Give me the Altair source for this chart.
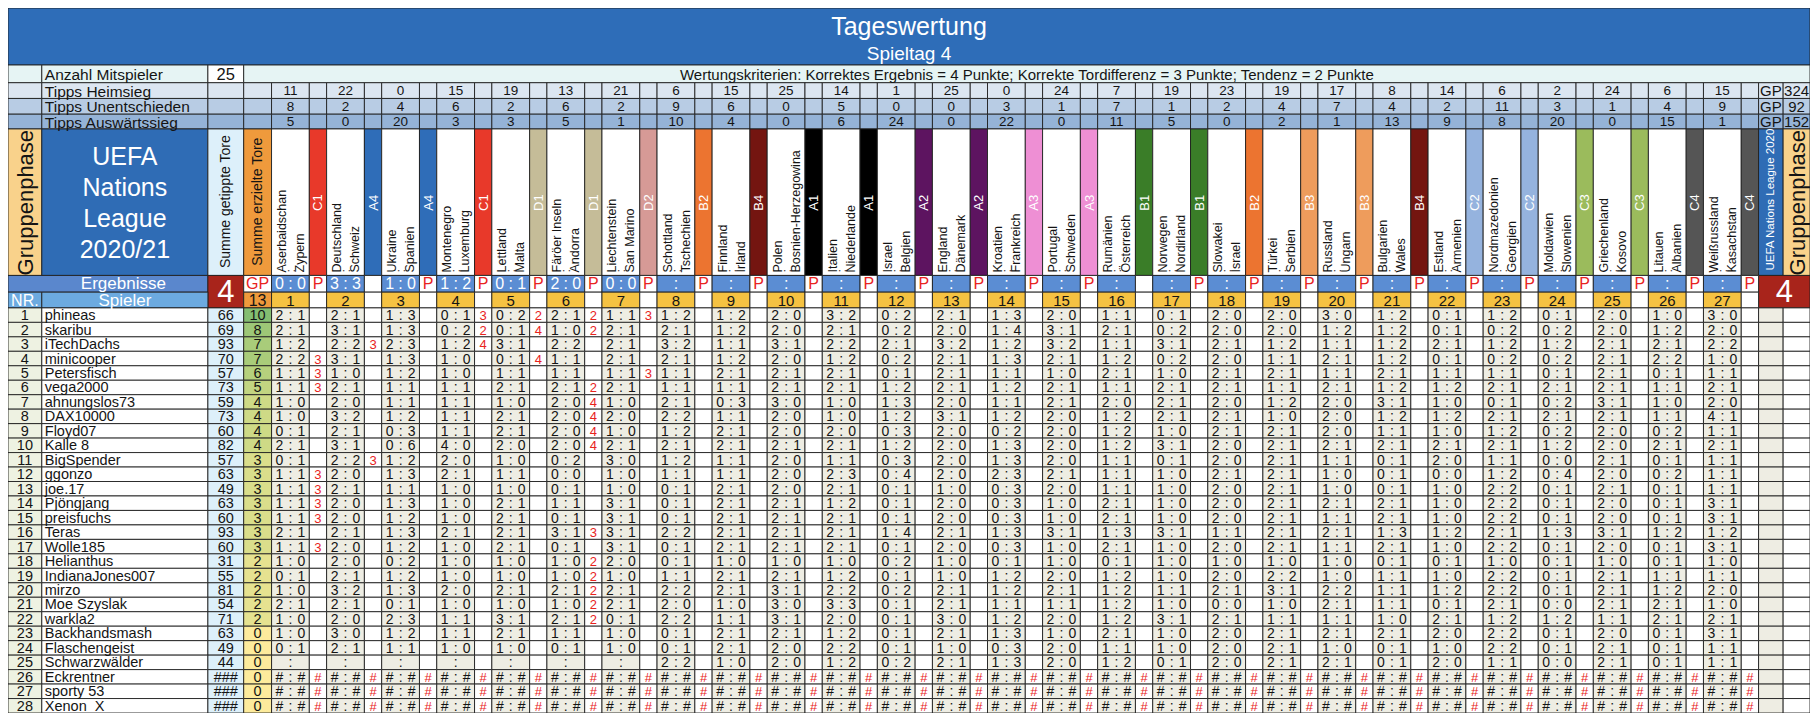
import altair as alt
import pandas as pd

# ---------------- chart values ----------------
title = "Tageswertung"
subtitle = "Spieltag 4"
criteria = "Wertungskriterien: Korrektes Ergebnis = 4 Punkte; Korrekte Tordifferenz = 3 Punkte; Tendenz = 2 Punkte"
league_block = "UEFA\nNations\nLeague\n2020/21"
league_short = "UEFA Nations League 2020/21"
phase = "Gruppenphase"
spieltag_nr = "4"
anzahl_label = "Anzahl Mitspieler"
anzahl_value = "25"
tipps_labels = ["Tipps Heimsieg", "Tipps Unentschieden", "Tipps Auswärtssieg"]
col_labels = ["Summe getippte Tore", "Summe erzielte Tore"]

home = ["Aserbaidschan", "Deutschland", "Ukraine", "Montenegro", "Lettland", "Färöer Inseln",
        "Liechtenstein", "Schottland", "Finnland", "Polen", "Italien", "Israel", "England",
        "Kroatien", "Portugal", "Rumänien", "Norwegen", "Slowakei", "Türkei", "Russland",
        "Bulgarien", "Estland", "Nordmazedonien", "Moldawien", "Griechenland", "Litauen",
        "Weißrussland"]
away = ["Zypern", "Schweiz", "Spanien", "Luxemburg", "Malta", "Andorra", "San Marino",
        "Tschechien", "Irland", "Bosnien-Herzegowina", "Niederlande", "Belgien", "Dänemark",
        "Frankreich", "Schweden", "Österreich", "Nordirland", "Israel", "Serbien", "Ungarn",
        "Wales", "Armenien", "Georgien", "Slowenien", "Kosovo", "Albanien", "Kasachstan"]
groups = ["C1", "A4", "A4", "C1", "D1", "D1", "D2", "B2", "B4", "A1", "A1", "A2", "A2", "A3",
          "A3", "B1", "B1", "B2", "B3", "B3", "B4", "C2", "C2", "C3", "C3", "C4", "C4"]

tipps_heim = [11, 22, 0, 15, 19, 13, 21, 6, 15, 25, 14, 1, 25, 0, 24, 7, 19, 23, 19, 17, 8, 14, 6, 2, 24, 6, 15]
tipps_unent = [8, 2, 4, 6, 2, 6, 2, 9, 6, 0, 5, 0, 0, 3, 1, 7, 1, 2, 4, 7, 4, 2, 11, 3, 1, 4, 9]
tipps_ausw = [5, 0, 20, 3, 3, 5, 1, 10, 4, 0, 6, 24, 0, 22, 0, 11, 5, 0, 2, 1, 13, 9, 8, 20, 0, 15, 1]
gp_totals = [324, 92, 152]

results = ["0:0", "3:3", "1:0", "1:2", "0:1", "2:0", "0:0", ":", ":", ":", ":", ":", ":", ":",
           ":", ":", ":", ":", ":", ":", ":", ":", ":", ":", ":", ":", ":"]
result_flags = ["P", "", "P", "P", "P", "P", "P", "P", "P", "P", "P", "P", "P", "P", "P", "",
                "P", "P", "P", "P", "P", "P", "P", "P", "P", "P", "P"]
goals_scored_total = "13"

players = ["phineas", "skaribu", "iTechDachs", "minicooper", "Petersfisch", "vega2000",
           "ahnungslos73", "DAX10000", "Floyd07", "Kalle 8", "BigSpender", "ggonzo", "joe.17",
           "Pjöngjang", "preisfuchs", "Teras", "Wolle185", "Helianthus", "IndianaJones007",
           "mirzo", "Moe Szyslak", "warkla2", "Backhandsmash", "Flaschengeist", "Schwarzwälder",
           "Eckrentner", "sporty 53", "Xenon_X"]
tipped_goals = ["66", "69", "93", "70", "57", "73", "59", "73", "60", "82", "57", "63", "49", "63",
                "60", "93", "60", "31", "55", "81", "54", "71", "63", "49", "44", "###", "###", "###"]
points_total = [10, 8, 7, 7, 6, 5, 4, 4, 4, 4, 3, 3, 3, 3, 3, 3, 3, 2, 2, 2, 2, 2, 0, 0, 0, 0, 0, 0]

ERR = "#:# " * 27
tips = [
    "2:1 2:1 1:3 0:1 0:2 2:1 1:1 1:2 1:2 2:0 3:2 0:2 2:1 1:3 2:0 1:1 0:1 2:0 2:0 3:0 1:2 0:1 1:2 0:1 2:0 1:0 3:0",
    "2:1 3:1 1:3 0:2 0:1 1:0 2:1 2:1 1:2 2:0 2:1 0:2 2:0 1:4 3:1 2:1 0:2 2:0 2:0 1:2 1:2 0:1 0:2 0:2 2:0 1:2 2:0",
    "1:2 2:2 2:3 1:2 3:1 2:2 2:1 3:2 1:1 3:1 2:2 2:1 3:2 1:2 3:2 1:1 3:1 2:1 1:2 1:1 1:2 2:1 1:2 1:2 2:1 2:1 2:2",
    "2:2 3:1 1:3 1:0 0:1 1:1 2:1 2:1 1:2 2:0 1:2 0:2 2:1 1:3 2:1 1:2 0:2 2:0 1:1 2:1 1:2 0:1 0:2 0:2 2:1 2:2 1:0",
    "1:1 1:0 1:2 1:0 1:1 1:1 1:1 1:1 2:1 2:1 2:1 0:1 2:1 1:1 1:0 2:1 1:0 2:1 2:1 1:1 2:1 1:1 1:1 0:1 2:1 0:1 1:1",
    "1:1 2:1 1:1 1:1 2:1 2:1 2:1 1:1 1:1 2:1 2:1 1:2 2:1 1:2 2:1 1:1 2:1 2:1 1:1 2:1 1:2 1:2 2:1 2:1 2:1 1:1 2:1",
    "1:0 2:0 1:1 1:1 1:0 2:0 1:0 2:1 0:3 3:0 1:0 1:3 2:0 1:1 2:1 2:0 2:1 2:0 1:2 2:0 3:1 1:0 0:1 0:2 3:1 1:0 2:0",
    "1:0 3:2 1:2 1:1 2:1 2:0 2:0 2:2 1:1 2:0 1:0 1:2 3:1 1:2 2:0 1:2 2:1 2:1 1:0 2:0 1:2 1:2 2:1 2:1 2:1 1:1 4:1",
    "0:1 2:1 0:3 1:1 2:1 2:0 1:0 1:2 2:1 2:0 2:0 0:3 2:0 0:2 2:0 1:2 1:0 2:1 2:1 2:0 1:1 1:0 1:2 0:2 2:0 0:2 1:1",
    "2:1 3:1 0:6 4:0 2:0 2:0 2:1 2:1 2:1 2:1 2:1 1:2 2:0 1:3 2:0 1:2 3:1 2:0 2:1 2:1 2:1 2:1 2:1 1:2 2:0 2:1 2:1",
    "0:1 2:2 1:2 2:0 1:0 0:2 3:0 1:2 1:1 2:0 1:1 0:3 2:0 1:3 2:0 1:1 0:1 2:0 2:1 1:1 0:1 2:0 1:1 0:0 2:1 0:1 1:1",
    "1:1 2:0 1:3 2:1 1:1 0:0 1:0 1:1 1:1 2:0 2:3 0:4 2:0 2:3 2:1 1:1 1:0 2:1 2:1 1:0 0:1 0:0 1:2 0:4 2:0 0:2 1:1",
    "1:1 2:1 1:1 1:0 1:0 0:1 1:0 0:1 2:1 2:0 2:1 0:1 1:0 0:3 2:0 1:1 1:0 2:0 2:1 1:0 0:1 1:0 2:2 0:1 2:1 0:1 1:1",
    "1:1 2:0 1:3 1:0 2:1 1:1 3:1 0:1 2:1 2:1 1:2 0:1 2:0 0:3 1:0 2:1 1:0 2:0 2:1 2:1 2:1 1:0 2:2 0:1 2:0 0:1 3:1",
    "1:1 2:0 1:2 1:0 2:1 0:1 3:1 0:1 2:1 2:1 2:1 0:1 2:0 0:3 1:0 2:1 1:0 2:0 2:1 1:1 2:1 1:0 2:2 0:1 2:0 0:1 3:1",
    "2:1 2:1 1:3 2:1 2:1 3:1 3:1 2:2 2:1 2:1 2:1 1:4 2:1 1:3 3:1 1:3 3:1 1:1 2:1 2:1 1:3 1:2 2:1 1:3 3:1 1:2 1:2",
    "1:1 2:0 1:2 1:0 2:1 0:1 3:1 0:1 2:1 2:1 2:1 0:1 2:0 0:3 1:0 2:1 1:0 2:0 2:1 1:1 2:1 1:0 2:2 0:1 2:0 0:1 3:1",
    "1:0 2:0 0:2 1:0 1:0 1:0 2:0 0:1 1:0 1:0 1:0 0:2 1:0 0:1 1:0 0:1 1:0 1:0 1:0 1:0 0:1 0:1 1:0 0:1 1:0 0:1 1:0",
    "0:1 2:1 1:2 1:0 1:0 1:0 1:0 1:1 2:1 2:1 1:2 0:1 1:0 1:2 2:0 1:2 1:0 2:0 2:2 1:0 1:1 1:0 2:2 0:1 2:1 1:1 1:1",
    "1:0 3:2 1:3 2:0 2:1 2:1 2:1 2:2 2:1 3:1 2:2 0:2 2:1 1:2 2:1 1:2 1:1 2:1 3:1 2:2 1:1 1:2 2:2 0:1 2:1 1:2 2:0",
    "2:1 2:1 0:1 1:0 1:0 1:0 2:1 2:0 1:0 3:0 3:3 0:1 2:1 1:1 1:1 1:2 1:0 0:0 1:0 2:1 1:1 0:1 2:1 0:0 2:1 2:1 1:0",
    "1:0 2:0 2:3 1:1 3:1 2:1 0:1 2:2 1:1 3:1 2:0 0:1 3:0 1:2 2:0 1:2 3:1 2:1 1:1 1:1 1:0 2:1 1:2 1:2 1:1 2:1 2:1",
    "1:0 3:0 1:2 1:1 2:1 1:1 1:0 0:1 2:1 2:1 1:2 0:1 2:1 1:3 1:0 2:1 1:0 2:0 2:1 2:1 2:1 2:0 2:2 0:1 2:0 0:1 3:1",
    "0:1 2:1 1:1 1:0 1:0 0:1 1:0 0:1 2:1 2:0 2:2 0:1 1:0 0:3 2:0 1:1 1:0 2:0 2:1 1:0 0:1 1:0 2:2 0:1 2:1 0:1 1:1",
    "_ _ _ _ _ _ _ 2:2 1:0 2:0 1:2 0:2 2:1 1:3 2:0 1:2 0:1 2:0 2:1 2:1 0:1 2:0 1:1 0:0 2:1 0:1 1:1",
    ERR, ERR, ERR,
]

points = [
    ["", "", "", "3", "2", "2", "3"],
    ["", "", "", "2", "4", "2", ""],
    ["", "3", "", "4", "", "", ""],
    ["3", "", "", "", "4", "", ""],
    ["3", "", "", "", "", "", "3"],
    ["3", "", "", "", "", "2", ""],
    ["", "", "", "", "", "4", ""],
    ["", "", "", "", "", "4", ""],
    ["", "", "", "", "", "4", ""],
    ["", "", "", "", "", "4", ""],
    ["", "3", "", "", "", "", ""],
    ["3", "", "", "", "", "", ""],
    ["3", "", "", "", "", "", ""],
    ["3", "", "", "", "", "", ""],
    ["3", "", "", "", "", "", ""],
    ["", "", "", "", "", "3", ""],
    ["3", "", "", "", "", "", ""],
    ["", "", "", "", "", "2", ""],
    ["", "", "", "", "", "2", ""],
    ["", "", "", "", "", "2", ""],
    ["", "", "", "", "", "2", ""],
    ["", "", "", "", "", "2", ""],
    ["", "", "", "", "", "", ""],
    ["", "", "", "", "", "", ""],
    ["", "", "", "", "", "", ""],
    ["#"] * 27, ["#"] * 27, ["#"] * 27,
]

# ---------------- styles ----------------
group_colors = {"A1": "#000000", "A2": "#5D1460", "A3": "#EE8FD4", "A4": "#2F6DB8",
                "B1": "#3A7D28", "B2": "#EC7430", "B3": "#EE9C5C", "B4": "#741510",
                "C1": "#E8392A", "C2": "#95B3DE", "C3": "#9BBB5C", "C4": "#555555",
                "D1": "#C5BC98", "D2": "#D69A96"}
BLUE_TITLE = "#2E6DB8"; ANZ = "#E6F4F4"; HEIM = "#DCE6F1"; UNENT = "#B8CCE4"; AUSW = "#95B3D7"
YEL_HDR = "#F9D28B"; BLUE_BIG = "#2F6CB5"; C_LIGHT = "#DDF0FA"; ORANGE = "#EF9A3C"
ERG_BLUE = "#5A87CD"; NR_BLUE = "#6CAAE0"; RES_BLUE = "#5B8DD3"; MATCHNUM = "#F5C242"
RED_BOX = "#A8241B"; NR_COL = "#EEF2E2"; TIP_BG = "#EEEDE3"; RED_TXT = "#E8231E"
DARK = "#141414"; WHITE = "#FFFFFF"
FONT = "Liberation Sans, Arial, sans-serif"

# ---------------- layout (reference pixel grid) ----------------
X_A = (2, 36); X_B = (36, 203); X_C = (203, 239); X_D = (239, 267)
M0 = 267.0; PITCH = 55.38; TIPW = 38.0
X_GP = (M0 + 27 * PITCH, 1787.0); X_VAL = (1787.0, 1814.0)
Y_TITLE = (2, 60); Y_ANZ = (60, 78); Y_HEIM = (78, 94); Y_UNE = (94, 110); Y_AUS = (110, 125)
Y_HDR = (125, 274); Y_ERG = (274, 291); Y_NR = (291, 307)
ROW0 = 307.0; NROWS = len(players); ROWH = (719.0 - ROW0) / NROWS
TEAM_LH = 9.0
BLOCK_LH = 31.0


def tip_x(k):
    x0 = M0 + k * PITCH
    return (x0, x0 + TIPW)


def p_x(k):
    x0 = M0 + k * PITCH
    return (x0 + TIPW, x0 + PITCH)


def mid(a):
    return (a[0] + a[1]) / 2


rects = []


def cell(xr, yr, fill):
    rects.append(dict(x=xr[0], x2=xr[1], y=yr[0], y2=yr[1], fill=fill))


texts = {k: [] for k in ["c", "l", "title", "rl", "rc", "block", "short"]}


def txt(layer, x, y, t, color=DARK, size=14):
    texts[layer].append(dict(x=x, y=y, t=t, c=color, s=size))


def score3(layer, xr, y, s, color, size):
    w = xr[1] - xr[0]
    if s in ("_", ":"):
        txt(layer, xr[0] + 0.5 * w, y, ":", color, size)
        return
    a, b = s.split(":")
    txt(layer, xr[0] + 0.21 * w, y, a, color, size)
    txt(layer, xr[0] + 0.5 * w, y, ":", color, size)
    txt(layer, xr[0] + 0.79 * w, y, b, color, size)


# title band
cell((2, 1814), Y_TITLE, BLUE_TITLE)
txt("title", 908, 21, title, WHITE, 25)
txt("title", 908, 49, subtitle, WHITE, 19)

# Anzahl row
cell(X_A, Y_ANZ, ANZ); cell(X_B, Y_ANZ, ANZ); cell(X_C, Y_ANZ, WHITE); cell((239, 1814), Y_ANZ, ANZ)
txt("l", 39, mid(Y_ANZ) + 1, anzahl_label, DARK, 15.5)
txt("c", mid(X_C), mid(Y_ANZ) + 1, anzahl_value, DARK, 16.5)
txt("c", (239 + 1814) / 2, mid(Y_ANZ) + 1, criteria, DARK, 15)

# Tipps rows
for lab, vals, yr, col, tot in zip(tipps_labels, [tipps_heim, tipps_unent, tipps_ausw],
                                   [Y_HEIM, Y_UNE, Y_AUS], [HEIM, UNENT, AUSW], gp_totals):
    for xr in (X_A, X_B, X_C, X_D, X_GP, X_VAL):
        cell(xr, yr, col)
    txt("l", 39, mid(yr) + 1, lab, DARK, 15.5)
    for k, v in enumerate(vals):
        cell(tip_x(k), yr, col); cell(p_x(k), yr, col)
        txt("c", mid(tip_x(k)), mid(yr) + 0.5, str(v), DARK, 13.5)
    txt("c", mid(X_GP), mid(yr) + 0.5, "GP", DARK, 15)
    txt("c", mid(X_VAL), mid(yr) + 0.5, str(tot), DARK, 15)

# big header
cell(X_A, Y_HDR, YEL_HDR); cell(X_B, Y_HDR, BLUE_BIG); cell(X_C, Y_HDR, C_LIGHT); cell(X_D, Y_HDR, ORANGE)
cell(X_GP, Y_HDR, BLUE_BIG); cell(X_VAL, Y_HDR, YEL_HDR)
txt("rc", mid(X_A) + 1, 200, phase, DARK, 22)
txt("rc", mid(X_VAL) + 1, 200, phase, DARK, 22)
# multi-line block: first line is placed at the anchor, following lines below
txt("block", mid(X_B), 154, league_block, WHITE, 25)
txt("short", mid(X_GP) + 0.5, 269, league_short, WHITE, 11.5)
txt("rc", mid(X_C), 199, col_labels[0], DARK, 14)
txt("rc", mid(X_D), 199, col_labels[1], DARK, 14)
for k in range(27):
    cell(tip_x(k), Y_HDR, WHITE)
    cell(p_x(k), Y_HDR, group_colors[groups[k]])
    # rotated 3-line text: first line at anchor, next lines to the right
    txt("rl", mid(tip_x(k)) - TEAM_LH + 0.5, 271, home[k] + "\n    :\n" + away[k], DARK, 12.5)
    txt("rc", mid(p_x(k)) + 0.5, 200, groups[k], WHITE, 13)

# Ergebnisse row + NR row
cell((2, 203), Y_ERG, ERG_BLUE)
cell(X_C, (274, 307), RED_BOX)
cell((X_GP[0], 1814), (274, 307), RED_BOX)
cell(X_D, Y_ERG, WHITE)
txt("c", 118, mid(Y_ERG) + 0.5, "Ergebnisse", WHITE, 17)
txt("c", mid(X_C), 291.5, spieltag_nr, WHITE, 31)
txt("c", (X_GP[0] + 1814) / 2, 291.5, spieltag_nr, WHITE, 31)
txt("c", mid(X_D), mid(Y_ERG) + 0.5, "GP", RED_TXT, 16)
cell(X_A, Y_NR, NR_BLUE); cell(X_B, Y_NR, NR_BLUE); cell(X_D, Y_NR, ORANGE)
txt("c", mid(X_A), mid(Y_NR) + 0.5, "NR.", WHITE, 16)
txt("c", mid(X_B), mid(Y_NR) + 0.5, "Spieler", WHITE, 17)
txt("c", mid(X_D), mid(Y_NR) + 0.5, goals_scored_total, DARK, 16)
for k in range(27):
    cell(tip_x(k), Y_ERG, RES_BLUE); cell(p_x(k), Y_ERG, WHITE)
    score3("c", tip_x(k), mid(Y_ERG) + 0.5, results[k], WHITE, 16)
    if result_flags[k]:
        txt("c", mid(p_x(k)), mid(Y_ERG) + 0.5, result_flags[k], RED_TXT, 16)
    cell(tip_x(k), Y_NR, MATCHNUM); cell(p_x(k), Y_NR, WHITE)
    txt("c", mid(tip_x(k)), mid(Y_NR) + 0.5, str(k + 1), DARK, 15)

# player rows
score_cells = []
for i, name in enumerate(players):
    yr = (ROW0 + i * ROWH, ROW0 + (i + 1) * ROWH)
    yc = mid(yr) + 1
    cell(X_A, yr, NR_COL); cell(X_B, yr, WHITE); cell(X_C, yr, C_LIGHT)
    cell(X_GP, yr, TIP_BG); cell(X_VAL, yr, WHITE)
    score_cells.append(dict(x=X_D[0], x2=X_D[1], y=yr[0], y2=yr[1], v=points_total[i]))
    txt("c", mid(X_A), yc, str(i + 1), DARK, 14.5)
    txt("l", 39, yc, name, DARK, 14.5)
    txt("c", mid(X_C), yc, tipped_goals[i], DARK, 14.5)
    txt("c", mid(X_D), yc, str(points_total[i]), DARK, 14.5)
    row_tips = tips[i].split()
    for k in range(27):
        cell(tip_x(k), yr, TIP_BG); cell(p_x(k), yr, WHITE)
        score3("c", tip_x(k), yc, row_tips[k], DARK, 14)
        if k < len(points[i]) and points[i][k]:
            txt("c", mid(p_x(k)), yc, points[i][k], RED_TXT, 13)

# ---------------- chart ----------------
W, H = 1802, 705
xs = alt.Scale(domain=[2, 1814], nice=False, zero=False)
ys = alt.Scale(domain=[2, 719], nice=False, zero=False, reverse=True)
X = alt.X("x:Q", scale=xs, axis=None)
Y = alt.Y("y:Q", scale=ys, axis=None)

rect_layer = alt.Chart(pd.DataFrame(rects)).mark_rect(stroke="#202020", strokeWidth=0.9).encode(
    x=X, x2="x2:Q", y=Y, y2="y2:Q", color=alt.Color("fill:N", scale=None))
score_layer = alt.Chart(pd.DataFrame(score_cells)).mark_rect(stroke="#202020", strokeWidth=0.9).encode(
    x=X, x2="x2:Q", y=Y, y2="y2:Q",
    color=alt.Color("v:Q", scale=alt.Scale(domain=[0, 10], range=["#FDEB9C", "#84BE72"]), legend=None))


def tl(key, font=FONT, **kw):
    return alt.Chart(pd.DataFrame(texts[key])).mark_text(font=font, baseline="middle", **kw).encode(
        x=X, y=Y, text="t:N", color=alt.Color("c:N", scale=None), size=alt.Size("s:Q", scale=None))


layers = [
    rect_layer, score_layer,
    tl("c", align="center"),
    tl("l", align="left"),
    tl("title", align="center"),
    tl("rl", align="left", angle=270, lineBreak="\n", lineHeight=TEAM_LH),
    tl("rc", align="center", angle=270),
    tl("block", align="center", lineBreak="\n", lineHeight=BLOCK_LH),
    tl("short", align="left", angle=270, limit=146, ellipsis=" "),
]

chart = alt.layer(*layers).properties(
    width=W, height=H, autosize=alt.AutoSizeParams(type="none"), padding=0
).configure_view(strokeWidth=0)

chart.save("out.html", embed_options={"renderer": "svg", "actions": False})
